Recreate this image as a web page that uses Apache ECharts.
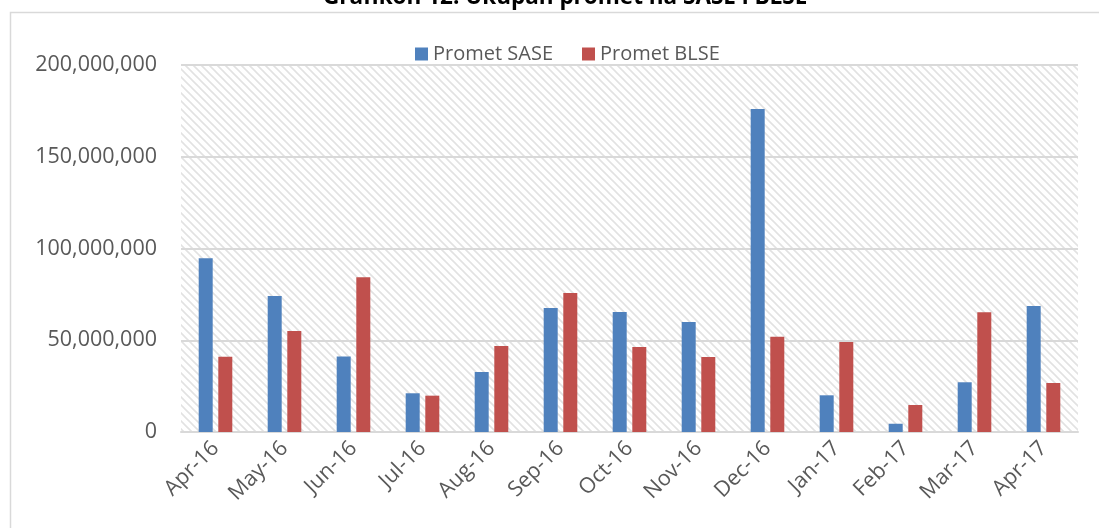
<!DOCTYPE html>
<html>
<head>
<meta charset="utf-8">
<title>Grafikon 12</title>
<script src="https://cdn.jsdelivr.net/npm/echarts@6/dist/echarts.min.js"></script>
<style>
  html, body { margin: 0; padding: 0; background: #fff; }
  #chart { width: 1099px; height: 528px; }
</style>
</head>
<body>
<div id="chart"></div>
<script>
// podaci ocitani sa grafikona
const months = ['Apr-16', 'May-16', 'Jun-16', 'Jul-16', 'Aug-16', 'Sep-16', 'Oct-16',
  'Nov-16', 'Dec-16', 'Jan-17', 'Feb-17', 'Mar-17', 'Apr-17'];
const prometSASE = [94700000, 74100000, 41200000, 21100000, 32700000, 67600000, 65400000,
  59900000, 176000000, 20000000, 4500000, 27100000, 68700000];
const prometBLSE = [41000000, 55000000, 84300000, 19800000, 46900000, 75700000, 46300000,
  40900000, 51900000, 49000000, 14700000, 65200000, 26700000];
const yTicks = [0, 50000000, 100000000, 150000000, 200000000];

const fontFam = '"Open Sans", sans-serif';
const textGrey = '#595959';

// srafura za pozadinu plot area
const hatch = document.createElement('canvas');
hatch.width = 8;
hatch.height = 8;
const hctx = hatch.getContext('2d');
hctx.fillStyle = '#fff';
hctx.fillRect(0, 0, 8, 8);
hctx.strokeStyle = '#e2e2e2';
hctx.lineWidth = 1.6;
hctx.beginPath();
hctx.moveTo(-2, -2); hctx.lineTo(10, 10);
hctx.moveTo(-2, 6); hctx.lineTo(2, 10);
hctx.moveTo(6, -2); hctx.lineTo(10, 2);
hctx.stroke();

const myChart = echarts.init(document.getElementById('chart'));
myChart.setOption({
  animation: false,
  title: {
    text: 'Grafikon 12: Ukupan promet na SASE i BLSE',
    left: 318,
    top: -19,
    textStyle: { fontFamily: fontFam, fontWeight: 'bold', fontSize: 22.5, color: '#000' }
  },
  graphic: [{
    type: 'rect',
    shape: { x: 10.5, y: 12.5, width: 1200, height: 600 },
    style: { fill: 'none', stroke: '#d9d9d9', lineWidth: 1.5 },
    silent: true,
    z: -1
  }],
  legend: {
    left: 410,
    top: 39,
    itemWidth: 13,
    itemHeight: 13,
    itemGap: 29,
    icon: 'rect',
    textStyle: { fontFamily: fontFam, fontSize: 20, color: textGrey }
  },
  grid: {
    left: 181,
    right: 21,
    top: 65,
    bottom: 96,
    show: true,
    borderWidth: 0,
    backgroundColor: { image: hatch, repeat: 'repeat' }
  },
  xAxis: {
    type: 'category',
    data: months,
    axisTick: { show: false },
    axisLine: { lineStyle: { color: '#d9d9d9', width: 2 } },
    axisLabel: {
      rotate: 45,
      margin: 13,
      interval: 0,
      fontFamily: fontFam,
      fontSize: 21.5,
      color: textGrey
    }
  },
  yAxis: {
    type: 'value',
    min: yTicks[0],
    max: yTicks[yTicks.length - 1],
    interval: yTicks[1] - yTicks[0],
    axisLine: { show: false },
    axisTick: { show: false },
    splitLine: { lineStyle: { color: '#d9d9d9', width: 2 } },
    axisLabel: {
      margin: 24,
      fontFamily: fontFam,
      fontSize: 21.5,
      color: textGrey,
      formatter: v => v.toLocaleString('en-US')
    }
  },
  series: [
    {
      name: 'Promet SASE',
      type: 'bar',
      data: prometSASE,
      barWidth: 14,
      barGap: '40%',
      itemStyle: { color: '#4f81bd' }
    },
    {
      name: 'Promet BLSE',
      type: 'bar',
      data: prometBLSE,
      barWidth: 14,
      itemStyle: { color: '#c0504d' }
    }
  ]
});
</script>
</body>
</html>
